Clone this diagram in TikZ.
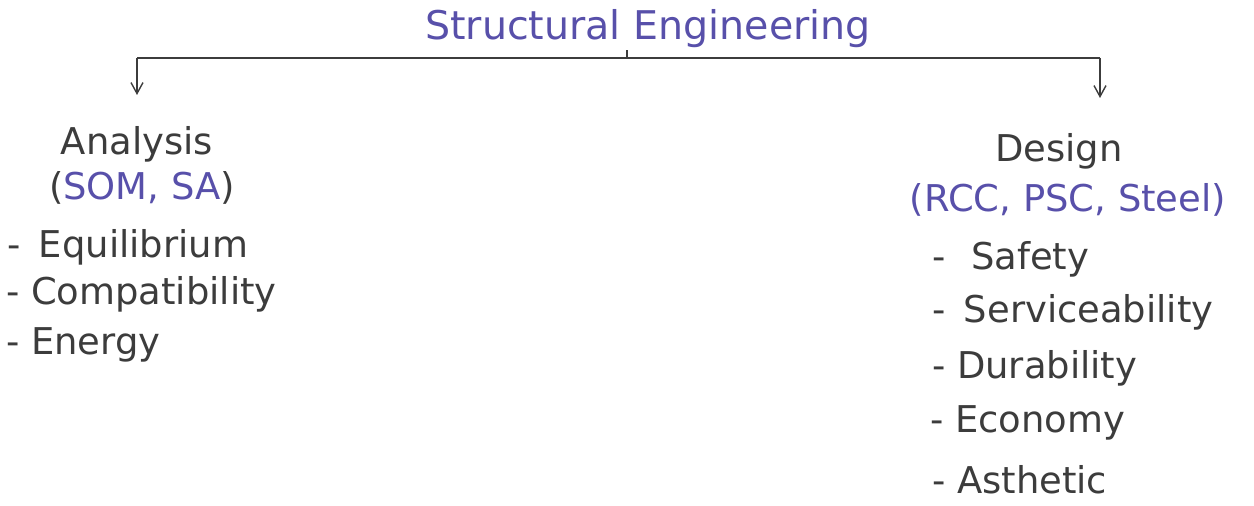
\documentclass[tikz,border=0pt]{standalone}
\usepackage{fontspec}
\setmainfont{DejaVu Sans}
\usetikzlibrary{arrows.meta,positioning}
\definecolor{inkblue}{RGB}{88,80,170}
\definecolor{inkgray}{RGB}{60,60,60}
\tikzset{
  hand/.style={font=\fontsize{21}{25}\selectfont, text=inkgray, inner sep=1pt},
  headtext/.style={hand, anchor=base},
  itemtext/.style={hand, anchor=base west},
  flow/.style={-{Straight Barb[length=2.2mm,width=2.4mm]}, line width=0.8pt, draw=inkgray},
  bar/.style={line width=0.9pt, draw=inkgray},
}

\begin{document}
\begin{tikzpicture}[x=0.2mm, y=-0.2mm]
  \useasboundingbox (0,0) rectangle (1254,506);

  \node[headtext, text=inkblue, font=\fontsize{22.5}{26}\selectfont] (title) at (648,40) {Structural Engineering};
  \coordinate (barL) at (137,58);
  \coordinate (barR) at (1100,58);
  \coordinate (barM) at (627,58);
  \coordinate (tipL) at (137,95);
  \coordinate (tipR) at (1100,98);

  \node[headtext] (analysis) at (137,155) {Analysis};
  \node[headtext] (analysisby) at (142,200) {(\textcolor{inkblue}{SOM, SA})};
  \node[itemtext] (equil) at (5,258) {-\hspace{0.5em}Equilibrium};
  \node[itemtext] (compat) at (4,305) {- Compatibility};
  \node[itemtext] (energy) at (4,355) {- Energy};

  \node[headtext] (design) at (1059,162) {Design};
  \node[headtext, text=inkblue] (designby) at (1068,212) {(RCC, PSC, Steel)};
  \node[itemtext] (safety) at (930,270) {-\hspace{0.7em}Safety};
  \node[itemtext] (service) at (930,322) {-\hspace{0.5em}Serviceability};
  \node[itemtext] (durable) at (930,378) {- Durability};
  \node[itemtext] (economy) at (928,432) {- Economy};
  \node[itemtext] (aesthetic) at (930,493) {- Asthetic};

  \draw[bar] (barM) -- (barM |- title.south);
  \draw[bar] (barL) -- (barR);
  \draw[flow] (barL) -- (tipL);
  \draw[flow] (barR) -- (tipR);
\end{tikzpicture}
\end{document}
